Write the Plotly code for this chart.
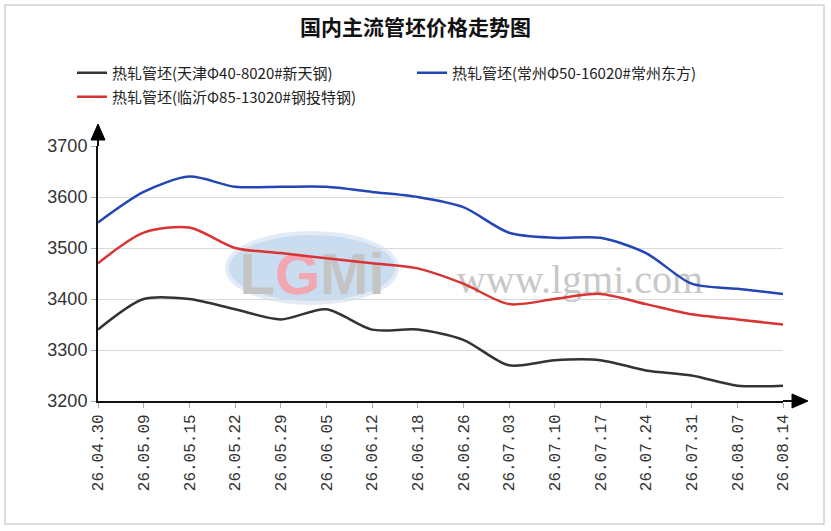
import plotly.graph_objects as go

categories = ["26.04.30", "26.05.09", "26.05.15", "26.05.22", "26.05.29", "26.06.05",
              "26.06.12", "26.06.18", "26.06.26", "26.07.03", "26.07.10", "26.07.17",
              "26.07.24", "26.07.31", "26.08.07", "26.08.14"]
tianjin = [3340, 3400, 3400, 3380, 3360, 3380, 3340, 3340, 3320, 3270, 3280, 3280, 3260, 3250, 3230, 3230]
changzhou = [3550, 3610, 3640, 3620, 3620, 3620, 3610, 3600, 3580, 3530, 3520, 3520, 3490, 3430, 3420, 3410]
linyi = [3470, 3530, 3540, 3500, 3490, 3480, 3470, 3460, 3430, 3390, 3400, 3410, 3390, 3370, 3360, 3350]
names = ["热轧管坯(天津Φ40-8020#新天钢)", "热轧管坯(常州Φ50-16020#常州东方)", "热轧管坯(临沂Φ85-13020#钢投特钢)"]
y_ticks = [3200, 3300, 3400, 3500, 3600, 3700]

W, H = 831, 531
L, R, T, B = 98, 48, 146, 130
pw, ph = W - L - R, H - T - B

def px(x):
    return (x - L) / pw

def py(y):
    return (H - B - y) / ph

fig = go.Figure()
series = [(tianjin, "#333333", names[0], "legend"),
          (changzhou, "#2346b4", names[1], "legend3"),
          (linyi, "#d83434", names[2], "legend2")]
for vals, col, nm, lg in series:
    fig.add_trace(go.Scatter(x=categories, y=vals, mode="lines", name=nm,
                             line=dict(color=col, width=2.5, shape="spline", smoothing=0.8),
                             legend=lg))

shapes = []
# watermark ellipse (logo)
shapes.append(dict(type="circle", xref="paper", yref="paper", layer="below",
                   x0=px(227), x1=px(397), y0=py(303), y1=py(233),
                   fillcolor="#c9dcf0", line=dict(color="#e3ecf6", width=4),
                   label=dict(text="<b><span style='color:#c4c4c4'>L</span><span style='color:#f2a6b0'>G</span><span style='color:#c4c4c4'>Mi</span></b>",
                              font=dict(family="Liberation Sans", size=58, color="#c4c4c4"),
                              textposition="middle center")))
# watermark site text
shapes.append(dict(type="rect", xref="paper", yref="paper", layer="below",
                   x0=px(450), x1=px(710), y0=py(295), y1=py(255),
                   line=dict(width=0), fillcolor="rgba(0,0,0,0)",
                   label=dict(text="www.lgmi.com", font=dict(family="Liberation Serif", size=40, color="#c8c8c8"),
                              textposition="middle center")))
# outer frame
shapes.append(dict(type="rect", xref="paper", yref="paper", layer="below",
                   x0=px(5), x1=px(824), y0=py(524), y1=py(5),
                   line=dict(color="#d2d2d2", width=1.5), fillcolor="rgba(0,0,0,0)"))
# axis extensions and arrows
shapes.append(dict(type="line", xref="paper", yref="paper", x0=0, x1=0, y0=1, y1=py(138),
                   line=dict(color="#111111", width=2)))
shapes.append(dict(type="path", xref="paper", yref="paper",
                   path=f"M {px(91)} {py(140)} L {px(105)} {py(140)} L {px(98)} {py(124)} Z",
                   fillcolor="#000000", line=dict(color="#000000", width=1)))
shapes.append(dict(type="line", xref="paper", yref="paper", x0=1, x1=px(794), y0=0, y1=0,
                   line=dict(color="#111111", width=2)))
shapes.append(dict(type="path", xref="paper", yref="paper",
                   path=f"M {px(792)} {py(394)} L {px(792)} {py(408)} L {px(808)} {py(401)} Z",
                   fillcolor="#000000", line=dict(color="#000000", width=1)))

legend_font = dict(family="Noto Sans CJK SC", size=15, color="#222222")

def leg(xpix, ypix):
    return dict(orientation="h", xref="container", yref="container",
                x=xpix / W, y=1 - ypix / H, xanchor="left", yanchor="middle",
                font=legend_font, bgcolor="rgba(0,0,0,0)", itemwidth=30)

fig.update_layout(
    width=W, height=H,
    margin=dict(l=L, r=R, t=T, b=B),
    paper_bgcolor="white", plot_bgcolor="white",
    title=dict(text="<b>国内主流管坯价格走势图</b>", x=0.5, xanchor="center",
               y=1 - 28 / H, yanchor="middle", yref="container",
               font=dict(family="Noto Sans CJK SC", size=21, color="#111111")),
    legend=leg(72, 73),
    legend3=leg(412, 73),
    legend2=leg(72, 97),
    shapes=shapes,
    showlegend=True,
)
fig.update_xaxes(type="category", range=[0, len(categories) - 1],
                 showline=True, linecolor="#111111", linewidth=2,
                 ticks="outside", ticklen=5, tickcolor="#aaaaaa",
                 tickangle=-90, showgrid=False,
                 tickfont=dict(family="Liberation Mono", size=16, color="#333333"))
fig.update_yaxes(range=[3200, 3700], tickvals=y_ticks,
                 showline=True, linecolor="#111111", linewidth=2,
                 ticks="outside", ticklen=5, tickcolor="#aaaaaa",
                 showgrid=True, gridcolor="#d9d9d9", gridwidth=1, zeroline=False,
                 tickfont=dict(family="Liberation Sans", size=18, color="#333333"))

fig.write_html("out.html", config={"displayModeBar": False},
               post_script="document.body.style.margin='0';")
